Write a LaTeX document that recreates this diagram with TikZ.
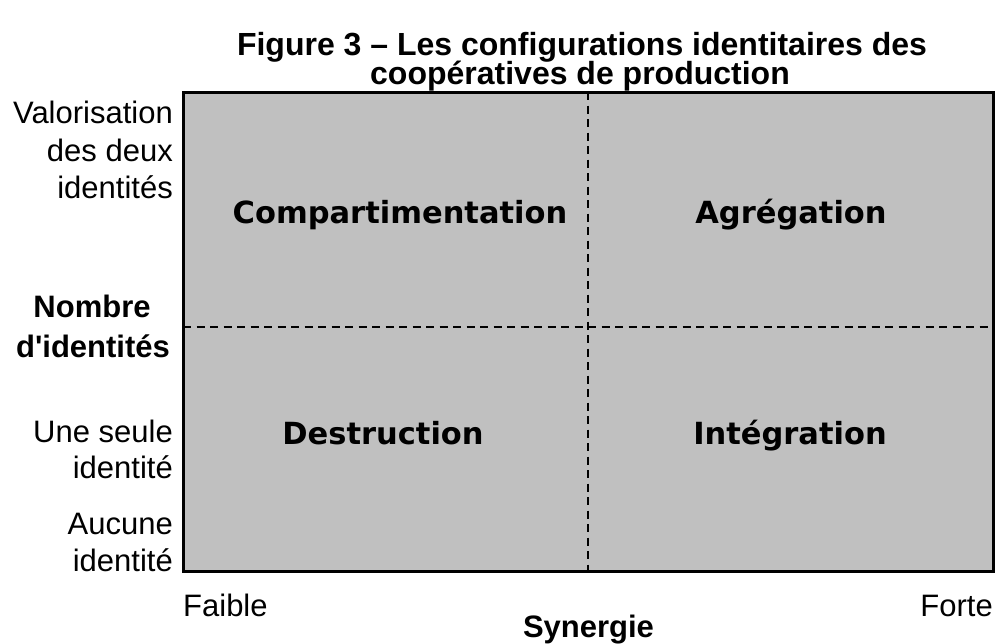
\documentclass[tikz,border=0pt]{standalone}
\usepackage{fontspec}
\setmainfont{Liberation Sans}[Ligatures=TeXOff]
\newfontfamily\quadfont{DejaVu Sans}
\definecolor{cellgray}{HTML}{C0C0C0}
\begin{document}
\begin{tikzpicture}[x=1pt,y=-1pt,
  axislabel/.style={inner sep=0pt, font=\fontsize{31}{37}\selectfont},
  axistitle/.style={inner sep=0pt, font=\fontsize{31}{37}\selectfont\bfseries},
  titleline/.style={inner sep=0pt, anchor=base, font=\fontsize{32}{37}\selectfont\bfseries},
  quadlabel/.style={inner sep=0pt, anchor=base, font=\quadfont\fontsize{30.5}{36}\selectfont\bfseries},
  divider/.style={line width=2pt, dash pattern=on 8pt off 5.5pt}
]
\useasboundingbox (0,0) rectangle (996,643);

% title
\node[titleline] (t1) at (582,55) {Figure 3 – Les configurations identitaires des};
\node[titleline] (t2) at (580,84) {coopératives de production};

% the matrix
\node[draw, fill=cellgray, line width=3pt, inner sep=0pt, outer sep=0pt,
      minimum width=810pt, minimum height=479pt] (grid) at (588,331.5) {};
\coordinate (hl) at (grid.west |- 0,327);
\coordinate (hr) at (grid.east |- 0,327);
\draw[divider] (grid.north) -- (grid.south);
\draw[divider] (hl) -- (hr);

% quadrant names
\node[quadlabel] (q1) at (400,223) {Compartimentation};
\node[quadlabel] (q2) at (791,223) {Agrégation};
\node[quadlabel] (q3) at (383,444) {Destruction};
\node[quadlabel] (q4) at (790,444) {Intégration};

% vertical axis
\node[axislabel, anchor=base east] (v1) at (173,123) {Valorisation};
\node[axislabel, anchor=base east] (v2) at (173,161) {des deux};
\node[axislabel, anchor=base east] (v3) at (173,198) {identités};
\node[axistitle, anchor=base] (n1) at (92,317) {Nombre};
\node[axistitle, anchor=base] (n2) at (93,357) {d'identités};
\node[axislabel, anchor=base east] (u1) at (173,442) {Une seule};
\node[axislabel, anchor=base east] (u2) at (173,478) {identité};
\node[axislabel, anchor=base east] (a1) at (173,534) {Aucune};
\node[axislabel, anchor=base east] (a2) at (173,571) {identité};

% horizontal axis
\node[axislabel, anchor=base west] (lo) at (183,616) {Faible};
\node[axislabel, anchor=base east] (hi) at (993,616) {Forte};
\node[axistitle, anchor=base] (sy) at (588.5,637) {Synergie};
\end{tikzpicture}
\end{document}
